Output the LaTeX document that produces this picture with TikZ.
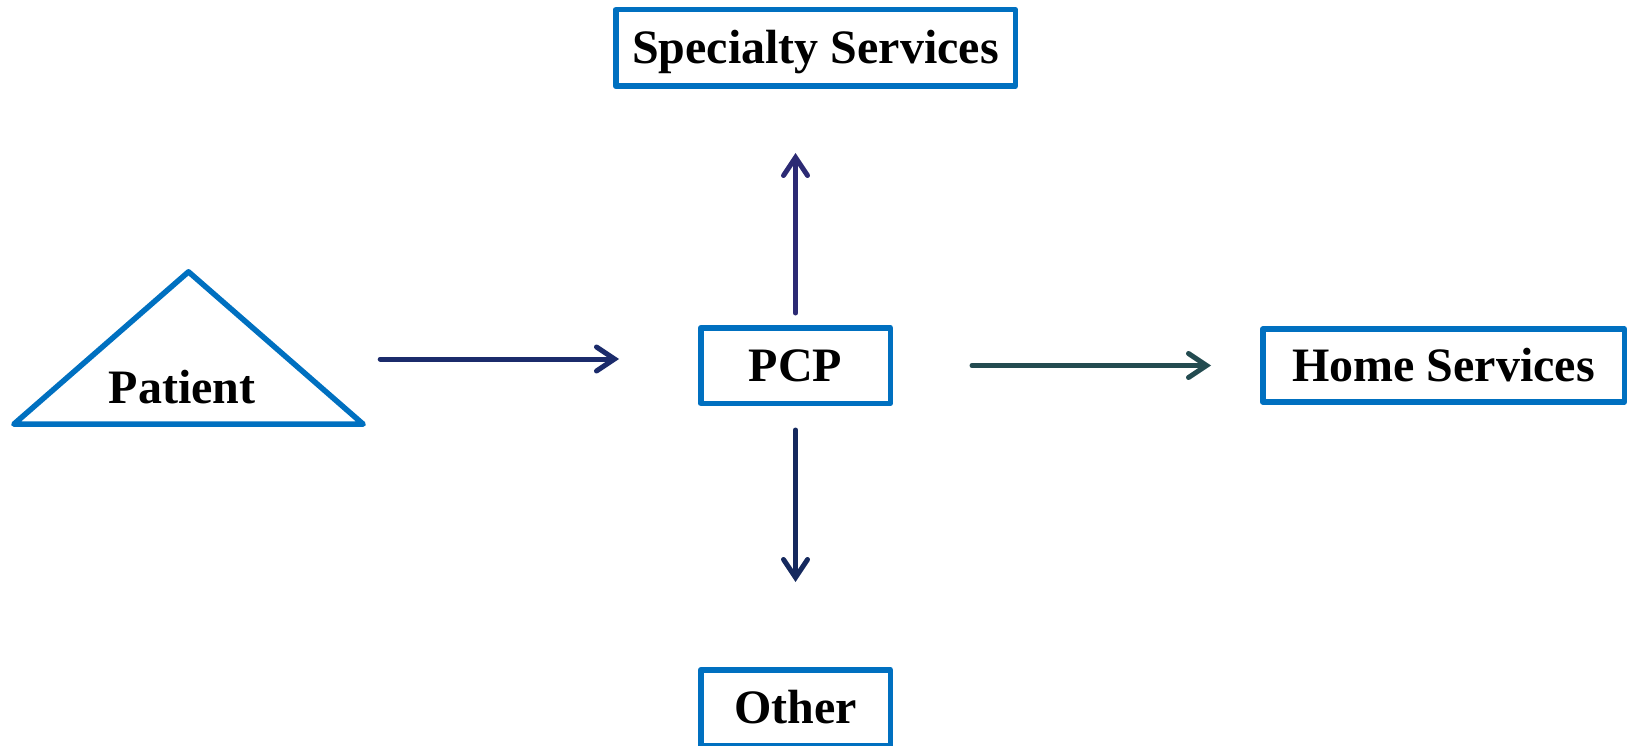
\documentclass[tikz,border=0pt]{standalone}
\usepackage{fontspec}
\setmainfont{Liberation Serif}
\usetikzlibrary{arrows.meta}
\definecolor{boxblue}{HTML}{0070C0}
\definecolor{navyA}{HTML}{1B2B6B}
\definecolor{navyUp}{HTML}{2C2A74}
\definecolor{navyDn}{HTML}{15295E}
\definecolor{tealR}{HTML}{234B50}
\tikzset{
  lbl/.style={font=\bfseries\fontsize{48}{56}\selectfont, text height=32pt, text depth=0pt, inner sep=0pt},
  bx/.style={lbl, draw=boxblue, line width=5.5pt, line join=round, fill=white},
  arr/.style={line width=5pt, line cap=round, -{Straight Barb[length=18pt,width=24pt,line cap=round]}},
}
\begin{document}
\begin{tikzpicture}[x=1pt,y=-1pt]
\useasboundingbox (0,0) rectangle (1630,746);
% patient triangle frame (invisible node spanning the triangle)
\node[minimum width=349pt, minimum height=152pt, inner sep=0pt] (patient) at (188.5,348) {};
\draw[boxblue, line width=5.5pt, line join=round] (patient.south west) -- (patient.north) -- (patient.south east) -- cycle;
\node[lbl, anchor=base] (patientlbl) at (182,403) {Patient};
% boxes
\node[bx, minimum width=399.5pt, minimum height=76.5pt] (spec) at (815.5,48) {Specialty Services};
\node[bx, minimum width=189.5pt, minimum height=75.5pt] (pcp) at (795.5,365.5) {PCP};
\node[bx, minimum width=361.5pt, minimum height=73pt] (home) at (1443.5,365.5) {Home Services};
\node[bx, minimum width=189.5pt, minimum height=75.5pt] (other) at (795.5,707.5) {Other};
% arrows
\draw[arr, navyA] ([shift={(17,11)}]patient.east) -- ([shift={(-79,-6.5)}]pcp.west);
\draw[arr, navyUp, shorten <=12pt, shorten >=64pt] (pcp.north) -- (spec.south -| pcp.north);
\draw[arr, navyDn, shorten <=24pt, shorten >=85pt] (pcp.south) -- (other.north);
\draw[arr, tealR, shorten <=79pt, shorten >=49pt] (pcp.east) -- (home.west);
\end{tikzpicture}
\end{document}
